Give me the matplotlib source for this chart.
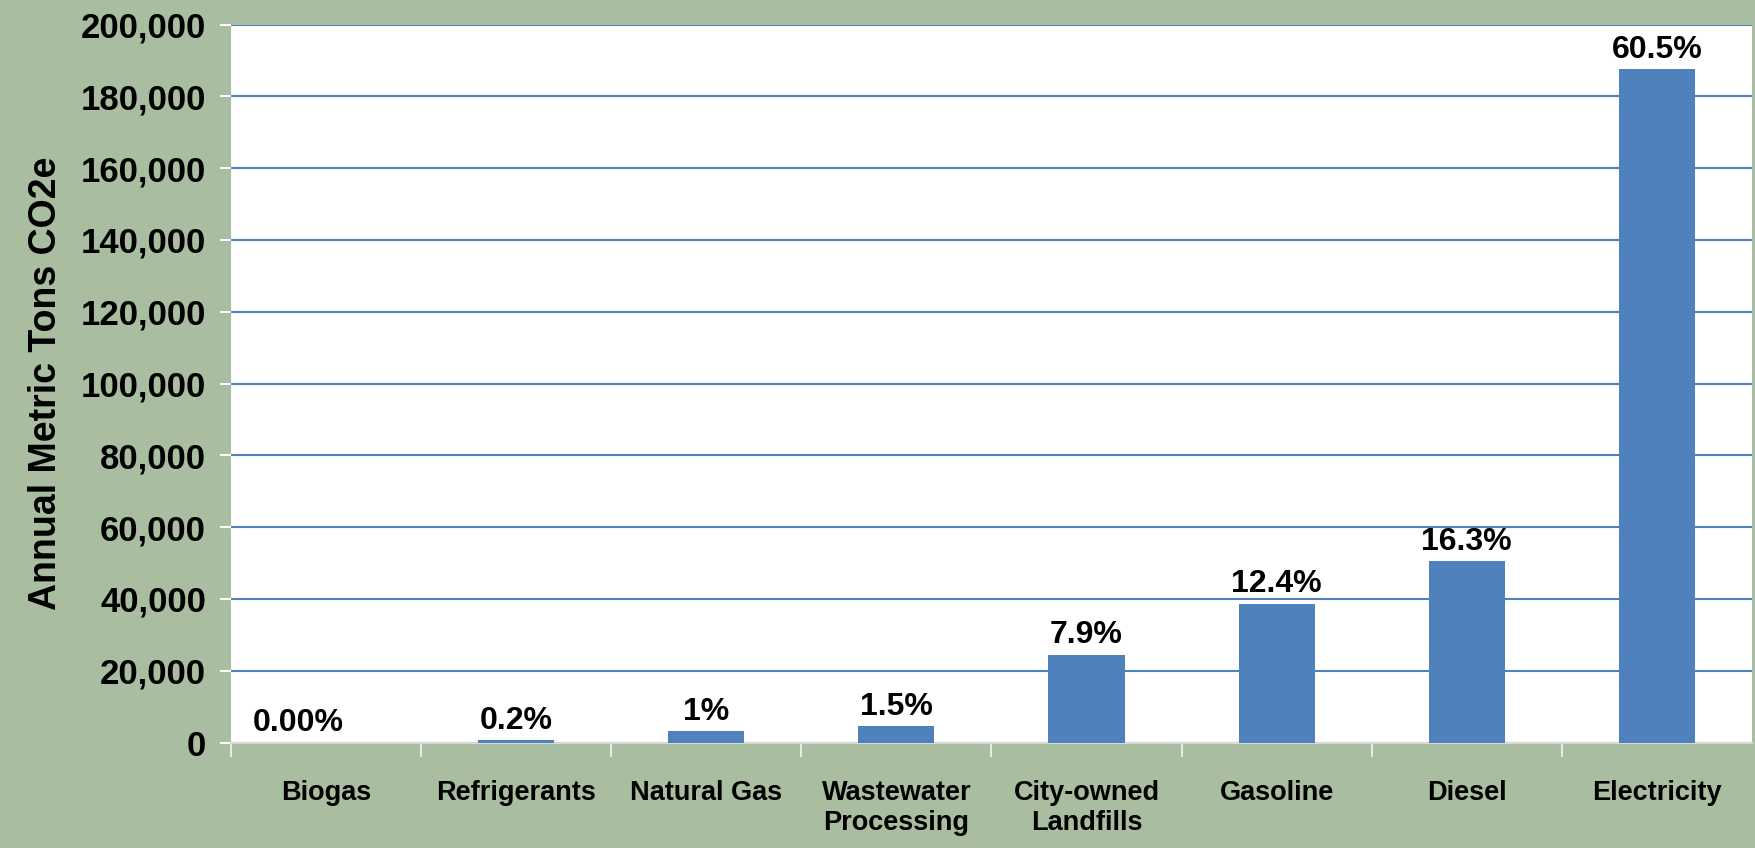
import matplotlib
matplotlib.use("Agg")
import matplotlib.pyplot as plt
from matplotlib.ticker import FuncFormatter

# Emission sources and annual metric tons CO2e
categories = ["Biogas", "Refrigerants", "Natural Gas", "Wastewater\nProcessing",
              "City-owned\nLandfills", "Gasoline", "Diesel", "Electricity"]
tons = [0, 620, 3100, 4650, 24500, 38700, 50500, 187500]
shares = ["0.00%", "0.2%", "1%", "1.5%", "7.9%", "12.4%", "16.3%", "60.5%"]
yticks = list(range(0, 200001, 20000))

bar_color = "#4F81BD"
plt.rcParams["font.family"] = ["Liberation Sans", "DejaVu Sans"]
plt.rcParams["font.weight"] = "bold"

fig = plt.figure(figsize=(17.56, 8.48), dpi=100)
fig.patch.set_facecolor("#A9BDA0")
ax = fig.add_axes([0.1315, 0.1243, 0.8662, 0.8467])
ax.set_facecolor("white")

x = list(range(len(categories)))
ax.bar(x, tons, width=0.4, color=bar_color, zorder=3)

for xi, v, s in zip(x, tons, shares):
    # the zero label sits a little left of its (empty) bar in the original
    dx = -20 if v == 0 else 0
    ax.annotate(s, (xi, v), xytext=(dx, 3), textcoords="offset points",
                ha="center", va="bottom", fontsize=23, fontweight="bold", zorder=4)

ax.set_xlim(-0.5, len(categories) - 0.5)
ax.set_ylim(0, 200000)
ax.set_yticks(yticks)
ax.yaxis.set_major_formatter(FuncFormatter(lambda v, p: f"{int(v):,}"))
ax.grid(axis="y", color=bar_color, linewidth=1.5, zorder=1)

ax.set_xticks(x)
ax.set_xticklabels(categories, fontsize=19.5, fontweight="bold", va="top", linespacing=1.2)
ax.set_xticks([i + 0.5 for i in x[:-1]] + [-0.5], minor=True)
ax.tick_params(axis="x", which="major", length=0, pad=27)
ax.tick_params(axis="x", which="minor", length=10, color="#E6EBE3", width=1.5)
ax.tick_params(axis="y", length=8, color="white", width=1.5, labelsize=25, pad=10)
for lab in ax.get_yticklabels():
    lab.set_fontweight("bold")

for side in ["top", "left", "right"]:
    ax.spines[side].set_visible(False)
ax.spines["bottom"].set_color("#D9D9D9")
ax.spines["bottom"].set_linewidth(1.5)

ax.set_ylabel("Annual Metric Tons CO2e", fontsize=27, fontweight="bold", labelpad=12)

fig.savefig("out.png", dpi=100, facecolor=fig.get_facecolor())
